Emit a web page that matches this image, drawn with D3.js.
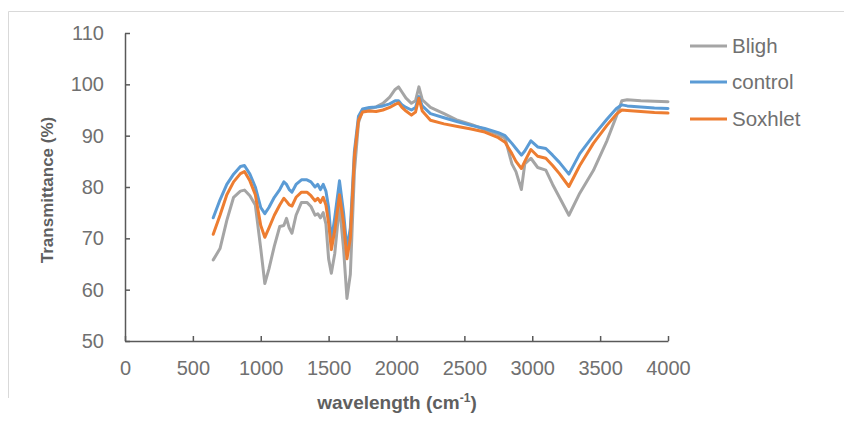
<!DOCTYPE html>
<html><head><meta charset="utf-8">
<script src="https://cdn.jsdelivr.net/npm/d3@7"></script>
<style>body{margin:0;background:#fff;} svg{display:block;} text{font-family:"Liberation Sans",Arial,sans-serif;}</style>
</head><body><svg id="c" width="844" height="429"></svg>
<script>
const wavenumber = [650,700,750,800,850,880,920,960,1000,1030,1060,1100,1140,1170,1190,1210,1230,1260,1300,1340,1370,1400,1420,1440,1460,1480,1500,1520,1545,1580,1610,1635,1660,1690,1720,1750,1800,1850,1900,1950,1990,2015,2040,2070,2110,2140,2165,2190,2250,2350,2450,2550,2650,2750,2800,2850,2880,2920,2945,2990,3040,3100,3150,3200,3270,3350,3450,3550,3620,3660,3700,3800,3900,4000];
const bligh = [65.8,68.0,73.5,78.0,79.2,79.4,78.3,76.5,68.0,61.2,64.0,68.5,72.3,72.5,73.9,72.0,71.0,74.5,77.0,77.0,76.2,74.5,74.8,74.0,75.0,72.8,66.0,63.2,67.0,76.5,68.0,58.3,63.0,83.0,92.5,95.0,95.3,95.6,96.3,97.5,99.0,99.5,98.5,97.3,96.3,96.8,99.5,97.0,95.5,94.3,93.0,92.2,91.2,90.2,89.5,84.5,83.0,79.5,84.5,85.6,83.8,83.3,80.5,78.0,74.5,78.8,83.2,89.0,93.8,96.8,97.0,96.8,96.7,96.6];
const control = [74.0,77.5,80.5,82.5,84.0,84.2,82.5,80.0,76.0,74.8,76.0,78.0,79.5,81.0,80.5,79.5,79.0,80.5,81.4,81.4,81.0,80.0,80.5,79.5,80.5,79.2,76.0,69.5,74.0,81.2,75.0,68.0,72.0,87.0,93.8,95.2,95.5,95.6,95.8,96.2,96.8,96.8,96.0,95.5,95.0,95.5,97.6,95.8,94.3,93.5,92.7,92.0,91.4,90.6,90.0,88.5,87.5,86.2,87.0,89.0,87.8,87.5,86.2,84.8,82.5,86.5,90.0,93.2,95.3,96.0,95.8,95.6,95.4,95.3];
const soxhlet = [70.8,74.5,78.5,81.0,82.6,83.0,81.2,78.5,72.5,70.2,72.0,74.5,76.5,77.8,77.2,76.5,76.3,78.0,79.0,79.0,78.3,77.3,77.8,77.0,78.0,76.5,73.0,67.8,71.5,78.5,73.0,66.0,70.0,86.0,93.0,94.6,94.8,94.7,95.0,95.5,96.1,96.4,95.5,94.8,94.0,94.6,97.3,94.8,93.0,92.3,91.8,91.3,90.7,89.6,88.7,86.5,85.0,83.6,85.0,87.3,86.0,85.6,84.2,82.6,80.1,84.2,88.5,92.0,94.2,95.0,94.9,94.7,94.5,94.4];
const seriesNames = ["Bligh","control","Soxhlet"];
const seriesValues = [bligh, control, soxhlet];
const seriesColors = ["#A5A5A5","#5B9BD5","#ED7D31"];
const xTicks = [0,500,1000,1500,2000,2500,3000,3500,4000];
const yTicks = [50,60,70,80,90,100,110];

const svg = d3.select("#c");
// frame
svg.append("path").attr("d","M8.5,398 V11.5 H844").attr("fill","none").attr("stroke","#d9d9d9").attr("stroke-width",1);

const x = d3.scaleLinear().domain([0,4000]).range([125,668]);
const y = d3.scaleLinear().domain([50,110]).range([341,33]);

const axisColor = "#595959", labelColor = "#707070";

const gx = svg.append("g").attr("transform","translate(0,341)")
  .call(d3.axisBottom(x).tickValues(xTicks).tickFormat(d3.format("d")).tickSizeInner(-5).tickSizeOuter(0).tickPadding(20));
const gy = svg.append("g").attr("transform","translate(125,0)")
  .call(d3.axisLeft(y).tickValues(yTicks).tickFormat(d3.format("d")).tickSizeInner(-5).tickSizeOuter(0).tickPadding(21));
[gx,gy].forEach(g=>{
  g.select(".domain").attr("stroke",axisColor).attr("stroke-width",1.5);
  g.selectAll(".tick line").attr("stroke",axisColor).attr("stroke-width",1.5);
  g.selectAll(".tick text").attr("fill",labelColor).attr("font-size",20).attr("font-family","Liberation Sans, Arial, sans-serif");
});
gx.selectAll(".tick text").attr("dy","0.71em");

// titles
svg.append("text").attr("x",397).attr("y",409).attr("text-anchor","middle")
  .attr("font-size",19).attr("font-weight","bold").attr("fill","#5f5f5f")
  .html('wavelength (cm<tspan dy="-7" font-size="12">-1</tspan><tspan dy="7">)</tspan>');
svg.append("text").attr("transform","translate(53,190) rotate(-90)").attr("text-anchor","middle")
  .attr("font-size",17).attr("font-weight","bold").attr("fill","#5f5f5f").text("Transmittance (%)");

// lines
const line = d3.line().x((d,i)=>x(wavenumber[i])).y(d=>y(d));
seriesValues.forEach((vals,k)=>{
  svg.append("path").datum(vals).attr("d",line).attr("fill","none")
    .attr("stroke",seriesColors[k]).attr("stroke-width",3).attr("stroke-linejoin","round").attr("stroke-linecap","round");
});

// legend
const legY = [46,82,119];
seriesNames.forEach((n,k)=>{
  svg.append("line").attr("x1",690).attr("x2",727).attr("y1",legY[k]).attr("y2",legY[k])
    .attr("stroke",seriesColors[k]).attr("stroke-width",3);
  svg.append("text").attr("x",732).attr("y",legY[k]).attr("dy","0.35em").attr("font-size",20.5)
    .attr("fill",labelColor).text(n);
});
</script></body></html>
